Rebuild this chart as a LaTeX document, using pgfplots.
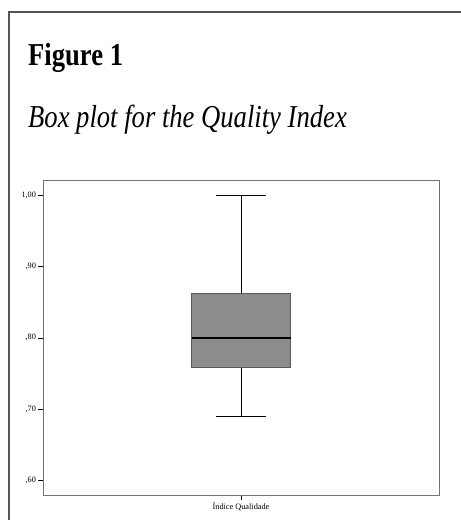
\documentclass[border=0pt]{standalone}
\usepackage{fontspec}
\setmainfont{Liberation Serif}
\newfontfamily\titlefont[FakeStretch=0.835]{Liberation Serif}
\usepackage{pgfplots}
\pgfplotsset{compat=1.18}
\usepgfplotslibrary{statistics}
\definecolor{boxfill}{RGB}{140,140,140}
\definecolor{frameline}{RGB}{85,85,85}
\begin{document}
\begin{tikzpicture}
\path[use as bounding box] (0,0) rectangle (461bp,520bp);
\draw[frameline, line width=1.3bp] (9bp,0bp) -- (9bp,508bp) -- (462bp,508bp);
\node[anchor=base west, inner sep=0pt] at (28bp,454.3bp) {\titlefont\fontsize{32}{36}\selectfont\bfseries Figure 1};
\node[anchor=base west, inner sep=0pt] at (28bp,392bp) {\titlefont\fontsize{32}{36}\selectfont\itshape Box plot for the Quality Index};
\begin{axis}[
  at={(43bp,25bp)}, anchor=south west,
  scale only axis, width=396bp, height=315bp,
  xmin=0, xmax=2, ymin=0.579, ymax=1.022,
  xtick={1}, xticklabels={Índice Qualidade},
  ytick={0.6,0.7,0.8,0.9,1.0},
  yticklabels={{,60},{,70},{,80},{,90},{1,00}},
  xtick pos=bottom, ytick pos=left,
  tick align=outside, major tick length=4.5bp,
  tick style={black, line width=0.6bp},
  axis line style={draw=black!55, line width=0.8bp},
  tick label style={font=\fontsize{8.3}{9}\selectfont},
  yticklabel style={xshift=1bp},
  xticklabel style={yshift=1bp},
  boxplot/draw direction=y,
]
\addplot[draw=black!65, fill=boxfill, line width=0.7bp,
  boxplot prepared={
    lower whisker=0.69, lower quartile=0.759, median=0.800,
    upper quartile=0.862, upper whisker=1.00,
    draw position=1, box extend=0.5, whisker extend=0.25,
    every median/.style={black, line width=1.6bp},
    every whisker/.style={black, line width=0.6bp},
  }] coordinates {};
\end{axis}
\end{tikzpicture}
\end{document}
